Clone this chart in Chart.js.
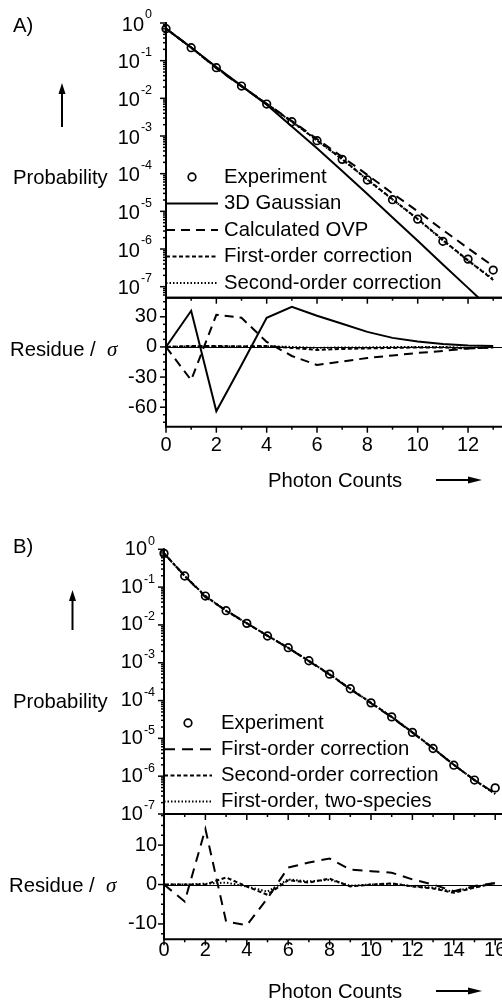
<!DOCTYPE html>
<html>
<head>
<meta charset="utf-8">
<script src="https://cdn.jsdelivr.net/npm/chart.js@4.4.1/dist/chart.umd.min.js"></script>
<style>
  html, body { margin: 0; padding: 0; background: #fff; overflow: hidden; }
  #wrap { position: relative; width: 502px; height: 1002px; overflow: hidden; background: #fff; }
  canvas.layer { position: absolute; left: 0; top: 0; }
  .t { position: absolute; font-family: "Liberation Sans", Arial, sans-serif; font-size: 20.3px; line-height: 20px; color: #000; white-space: nowrap; }
  .sig { font-family: "Liberation Serif", "Times New Roman", serif; font-style: italic; font-size: 21px; }
</style>
</head>
<body>
<div id="wrap">
  <canvas id="aTop" class="layer" width="540" height="1002"></canvas>
  <canvas id="aRes" class="layer" width="540" height="1002"></canvas>
  <canvas id="bTop" class="layer" width="540" height="1002"></canvas>
  <canvas id="bRes" class="layer" width="540" height="1002"></canvas>
  <canvas id="deco" class="layer" width="502" height="1002"></canvas>

  <div class="t" style="left:13px;top:15px">A)</div>
  <div class="t" style="left:13px;top:167px">Probability</div>
  <div class="t" style="left:10px;top:339px">Residue / &nbsp;<span class="sig">σ</span></div>
  <div class="t" style="left:268px;top:470px">Photon Counts</div>

  <div class="t" style="left:13px;top:536px">B)</div>
  <div class="t" style="left:13px;top:691px">Probability</div>
  <div class="t" style="left:9px;top:875px">Residue / &nbsp;<span class="sig">σ</span></div>
  <div class="t" style="left:268px;top:981px">Photon Counts</div>
</div>
<script>
// ---- panel A: 3D Gaussian / OVP fits ----
const countsA = [0, 1, 2, 3, 4, 5, 6, 7, 8, 9, 10, 11, 12, 13];
const experimentA = [0.706, 0.221, 0.065, 0.0212, 0.00706, 0.00239, 7.5e-4, 2.4e-4, 6.8e-5, 2.04e-5, 6.2e-6, 1.6e-6, 5.4e-7, 2.76e-7];
const gaussianA = [0.708, 0.224, 0.0676, 0.0214, 6.8e-3, 1.8e-3, 4.7e-4, 1.17e-4, 2.9e-5, 6.9e-6, 1.66e-6, 3.9e-7, 9.3e-8, 2.2e-8];
const ovpA = [0.706, 0.225, 0.063, 0.0208, 0.0072, 2.5e-3, 8.3e-4, 2.8e-4, 9.3e-5, 3.0e-5, 1.0e-5, 3.2e-6, 1.05e-6, 3.5e-7];
const firstOrderA = [0.706, 0.222, 0.065, 0.0211, 0.0071, 2.42e-3, 7.7e-4, 2.45e-4, 7.0e-5, 2.1e-5, 6.3e-6, 1.75e-6, 5.0e-7, 1.5e-7];
const secondOrderA = [0.706, 0.221, 0.0652, 0.0212, 0.00705, 2.4e-3, 7.6e-4, 2.42e-4, 6.9e-5, 2.06e-5, 6.2e-6, 1.7e-6, 4.9e-7, 1.6e-7];

const residueGaussianA = [0, 36, -64, -18, 29, 40, 31, 23, 15, 9, 5.5, 3, 1.5, 1];
const residueOvpA = [0, -33, 32, 29, 5, -9, -18, -14.5, -11, -8.5, -6, -4, -1.5, -0.5];
const residueFirstA = [0, 1, 1, 0.5, 1, -1, -3, -2, -1.5, -1, -0.5, -0.5, -1.5, -0.5];
const residueSecondA = [0, 0.5, 0.5, 0.5, 0.5, 0, -1, -0.5, -0.5, 0, 0, 0, -1, 0];

// ---- panel B: first/second order, two species ----
const countsB = [0, 1, 2, 3, 4, 5, 6, 7, 8, 9, 10, 11, 12, 13, 14, 15, 16];
const experimentB = [0.78, 0.197, 0.058, 0.0238, 0.011, 5.1e-3, 2.5e-3, 1.13e-3, 5.0e-4, 2.05e-4, 8.7e-5, 3.7e-5, 1.44e-5, 5.4e-6, 1.95e-6, 7.9e-7, 4.9e-7];
const firstOrderB = [0.78, 0.2, 0.054, 0.0242, 0.0112, 5.15e-3, 2.45e-3, 1.1e-3, 4.85e-4, 2.0e-4, 8.5e-5, 3.6e-5, 1.42e-5, 5.4e-6, 2.0e-6, 7.9e-7, 3.5e-7];
const secondOrderB = [0.78, 0.197, 0.058, 0.0236, 0.011, 5.2e-3, 2.48e-3, 1.12e-3, 4.95e-4, 2.05e-4, 8.7e-5, 3.7e-5, 1.45e-5, 5.5e-6, 2.0e-6, 7.9e-7, 3.4e-7];
const twoSpeciesB = [0.78, 0.197, 0.058, 0.0237, 0.011, 5.18e-3, 2.48e-3, 1.12e-3, 4.96e-4, 2.05e-4, 8.7e-5, 3.7e-5, 1.45e-5, 5.5e-6, 2.0e-6, 7.9e-7, 3.4e-7];

const residueFirstB = [0, -4.3, 14.1, -9.4, -10.3, -3.5, 4.3, 5.6, 6.6, 3.8, 3.4, 3.0, 1.3, 0, -1.7, -0.4, 0.4];
const residueSecondB = [0, 0, 0, 1.8, -0.5, -2.6, 1.1, 0.5, 1.5, -0.5, 0, 0.3, -0.5, -1, -2.1, -0.8, 0.4];
const residueTwoSpeciesB = [0, 0, 0.2, 0.5, -0.5, -1.8, 1.3, 0.8, 1.2, -0.3, 0, 0.2, -0.4, -0.8, -1.8, -0.6, 0.3];

// ---- tick labels ----
const logExponents = [0, -1, -2, -3, -4, -5, -6, -7];
const residueTicksA = [30, 0, -30, -60];
const residueTicksB = [10, 0, -10];
const countLabelsA = [0, 2, 4, 6, 8, 10, 12];
const countLabelsB = [0, 2, 4, 6, 8, 10, 12, 14, 16];

const W = 540, H = 1002;
const FONT = '"Liberation Sans", Arial, sans-serif';
const TICK_FONT = '20px ' + FONT;
const SUP_FONT = '12.5px ' + FONT;
const LEGEND_FONT = '20.3px ' + FONT;

const pts = (xs, ys) => xs.map((x, i) => ({ x, y: ys[i] }));

const lineDs = (label, xs, ys, dash) => ({
  label,
  data: pts(xs, ys),
  borderColor: '#000',
  borderWidth: 2,
  borderDash: dash,
  pointRadius: 0,
  fill: false,
  tension: 0
});

const expDs = (xs, ys) => ({
  label: 'Experiment',
  data: pts(xs, ys),
  showLine: false,
  borderColor: '#000',
  pointRadius: 3.8,
  pointBorderWidth: 1.7,
  pointBorderColor: '#000',
  pointBackgroundColor: 'rgba(0,0,0,0)',
  clip: false
});

// axes, ticks and tick labels drawn from the chart's scales
function frameFor(cfg) {
  return {
    id: 'frame',
    beforeDatasetsDraw(chart) {
      if (!cfg.zeroLine) return;
      const { ctx, chartArea: a, scales: { y } } = chart;
      const py = Math.round(y.getPixelForValue(0)) + 0.5;
      ctx.save();
      ctx.strokeStyle = '#000';
      ctx.lineWidth = 1;
      ctx.beginPath(); ctx.moveTo(a.left, py); ctx.lineTo(a.right, py); ctx.stroke();
      ctx.restore();
    },
    afterDatasetsDraw(chart) {
      const { ctx, chartArea: a, scales: { x, y } } = chart;
      const line = (x1, y1, x2, y2) => { ctx.beginPath(); ctx.moveTo(x1, y1); ctx.lineTo(x2, y2); ctx.stroke(); };
      ctx.save();
      ctx.strokeStyle = '#000';
      ctx.fillStyle = '#000';
      ctx.lineWidth = 2;
      line(a.left, a.top - 1, a.left, a.bottom + 1);
      line(a.left, a.bottom, a.right, a.bottom);
      if (cfg.topBorder) line(a.left, a.top, a.right, a.top);

      ctx.lineWidth = 1.5;
      if (cfg.logY) {
        const e0 = Math.floor(Math.log10(y.min));
        for (let e = e0; e <= 0; e++) {
          for (let m = 1; m < 10; m++) {
            const v = m * Math.pow(10, e);
            if (v < y.min * 0.999 || v > y.max * 1.001) continue;
            const py = y.getPixelForValue(v);
            line(a.left, py, a.left - (m === 1 ? 6 : 3), py);
          }
        }
      } else {
        const k0 = Math.ceil(y.min / cfg.yMinorStep), k1 = Math.floor(y.max / cfg.yMinorStep);
        for (let k = k0; k <= k1; k++) {
          const v = k * cfg.yMinorStep;
          const py = y.getPixelForValue(v);
          line(a.left, py, a.left - (cfg.yTicks.includes(v) ? 6 : 3), py);
        }
      }

      if (cfg.bottomTicks || cfg.topTicks) {
        for (let k = Math.ceil(x.min); k <= Math.floor(x.max); k++) {
          const px = x.getPixelForValue(k);
          const len = k % 2 === 0 ? 6 : 3;
          if (cfg.bottomTicks) line(px, a.bottom, px, a.bottom + len);
          if (cfg.topTicks) line(px, a.top, px, a.top + len);
        }
      }

      ctx.textBaseline = 'middle';
      ctx.textAlign = 'right';
      if (cfg.logY) {
        cfg.yTicks.forEach(e => {
          const py = y.getPixelForValue(Math.pow(10, e));
          const sup = String(e);
          ctx.font = SUP_FONT;
          const sw = ctx.measureText(sup).width;
          ctx.fillText(sup, cfg.labelRight, py - 8);
          ctx.font = TICK_FONT;
          ctx.fillText('10', cfg.labelRight - sw - 1, py + cfg.logShift);
        });
      } else {
        ctx.font = TICK_FONT;
        cfg.yTicks.forEach(v => ctx.fillText(String(v), cfg.labelRight, y.getPixelForValue(v)));
      }

      if (cfg.xLabels) {
        ctx.font = TICK_FONT;
        ctx.textAlign = 'center';
        cfg.xLabels.forEach(v => ctx.fillText(String(v), x.getPixelForValue(v), cfg.xLabelY));
      }
      ctx.restore();
    }
  };
}

// legend drawn from the datasets' own styles
function legendFor(cfg) {
  return {
    id: 'sideLegend',
    afterDatasetsDraw(chart) {
      const ctx = chart.ctx;
      ctx.save();
      ctx.font = LEGEND_FONT;
      ctx.textBaseline = 'middle';
      ctx.textAlign = 'left';
      ctx.fillStyle = '#000';
      chart.data.datasets.forEach((ds, i) => {
        const yy = cfg.top + i * cfg.rowHeight;
        ctx.strokeStyle = '#000';
        if (ds.showLine === false) {
          ctx.lineWidth = ds.pointBorderWidth;
          ctx.beginPath();
          ctx.arc((cfg.x0 + cfg.x1) / 2, yy, ds.pointRadius, 0, Math.PI * 2);
          ctx.stroke();
        } else {
          ctx.lineWidth = ds.borderWidth;
          ctx.setLineDash(ds.borderDash || []);
          ctx.beginPath(); ctx.moveTo(cfg.x0, yy); ctx.lineTo(cfg.x1, yy); ctx.stroke();
          ctx.setLineDash([]);
        }
        ctx.fillText(ds.label, cfg.textX, yy);
      });
      ctx.restore();
    }
  };
}

function makeChart(id, area, xMax, yScale, datasets, plugins) {
  return new Chart(document.getElementById(id), {
    type: 'line',
    data: { datasets },
    options: {
      responsive: false,
      animation: false,
      events: [],
      layout: { padding: { left: area.left, top: area.top, right: W - area.right, bottom: H - area.bottom } },
      plugins: { legend: { display: false }, tooltip: { enabled: false } },
      scales: {
        x: { type: 'linear', min: 0, max: xMax, display: false },
        y: Object.assign({ display: false }, yScale)
      }
    },
    plugins
  });
}

// panel A
const leftA = 166, rightA = 166 + 14 * 25.17;
makeChart('aTop', { left: leftA, top: 23, right: rightA, bottom: 297.7 }, 14,
  { type: 'logarithmic', min: 5.1e-8, max: 1 },
  [
    expDs(countsA, experimentA),
    lineDs('3D Gaussian', countsA, gaussianA, []),
    lineDs('Calculated OVP', countsA, ovpA, [9, 6]),
    lineDs('First-order correction', countsA, firstOrderA, [4, 2.5]),
    lineDs('Second-order correction', countsA, secondOrderA, [1.5, 2])
  ],
  [frameFor({ logY: true, yTicks: logExponents, labelRight: 152, logShift: 2 }),
   legendFor({ x0: 166, x1: 218, textX: 224, top: 177, rowHeight: 26.5 })]);

makeChart('aRes', { left: leftA, top: 297.7, right: rightA, bottom: 426.7 }, 14,
  { type: 'linear', min: -79.4, max: 49 },
  [
    lineDs('3D Gaussian', countsA, residueGaussianA, []),
    lineDs('Calculated OVP', countsA, residueOvpA, [9, 6]),
    lineDs('First-order correction', countsA, residueFirstA, [4, 2.5]),
    lineDs('Second-order correction', countsA, residueSecondA, [1.5, 2])
  ],
  [frameFor({ zeroLine: true, topBorder: true, topTicks: true, bottomTicks: true, yTicks: residueTicksA, yMinorStep: 7.5,
    labelRight: 157, xLabels: countLabelsA, xLabelY: 445 })]);

// panel B
const leftB = 164, rightB = 164 + 17 * 20.7;
makeChart('bTop', { left: leftB, top: 549.3, right: rightB, bottom: 814 }, 17,
  { type: 'logarithmic', min: 1e-7, max: 1 },
  [
    expDs(countsB, experimentB),
    lineDs('First-order correction', countsB, firstOrderB, [11, 7]),
    lineDs('Second-order correction', countsB, secondOrderB, [4, 2.5]),
    lineDs('First-order, two-species', countsB, twoSpeciesB, [1.5, 2])
  ],
  [frameFor({ logY: true, yTicks: logExponents, labelRight: 155, logShift: 0 }),
   legendFor({ x0: 164, x1: 212, textX: 221, top: 723, rowHeight: 26.2 })]);

makeChart('bRes', { left: leftB, top: 814, right: rightB, bottom: 939.3 }, 17,
  { type: 'linear', min: -13.9, max: 17.9 },
  [
    lineDs('First-order correction', countsB, residueFirstB, [10, 7]),
    lineDs('Second-order correction', countsB, residueSecondB, [4, 2.5]),
    lineDs('First-order, two-species', countsB, residueTwoSpeciesB, [1.5, 2])
  ],
  [frameFor({ zeroLine: true, topBorder: true, topTicks: true, bottomTicks: true, yTicks: residueTicksB, yMinorStep: 2.5,
    labelRight: 157, xLabels: countLabelsB, xLabelY: 950 })]);

// axis direction arrows
(function drawArrows() {
  const ctx = document.getElementById('deco').getContext('2d');
  ctx.fillStyle = '#000';
  ctx.strokeStyle = '#000';
  ctx.lineWidth = 2;
  function up(x, yTip, yEnd) {
    ctx.beginPath(); ctx.moveTo(x, yEnd); ctx.lineTo(x, yTip + 8); ctx.stroke();
    ctx.beginPath(); ctx.moveTo(x, yTip); ctx.lineTo(x - 3.5, yTip + 11); ctx.lineTo(x + 3.5, yTip + 11); ctx.closePath(); ctx.fill();
  }
  function right(y, xStart, xTip) {
    ctx.beginPath(); ctx.moveTo(xStart, y); ctx.lineTo(xTip - 8, y); ctx.stroke();
    ctx.beginPath(); ctx.moveTo(xTip, y); ctx.lineTo(xTip - 14, y - 3.5); ctx.lineTo(xTip - 14, y + 3.5); ctx.closePath(); ctx.fill();
  }
  up(62, 83, 127);
  up(72.5, 590, 630);
  right(480, 436, 482);
  right(991, 436, 482);
})();
</script>
</body>
</html>
